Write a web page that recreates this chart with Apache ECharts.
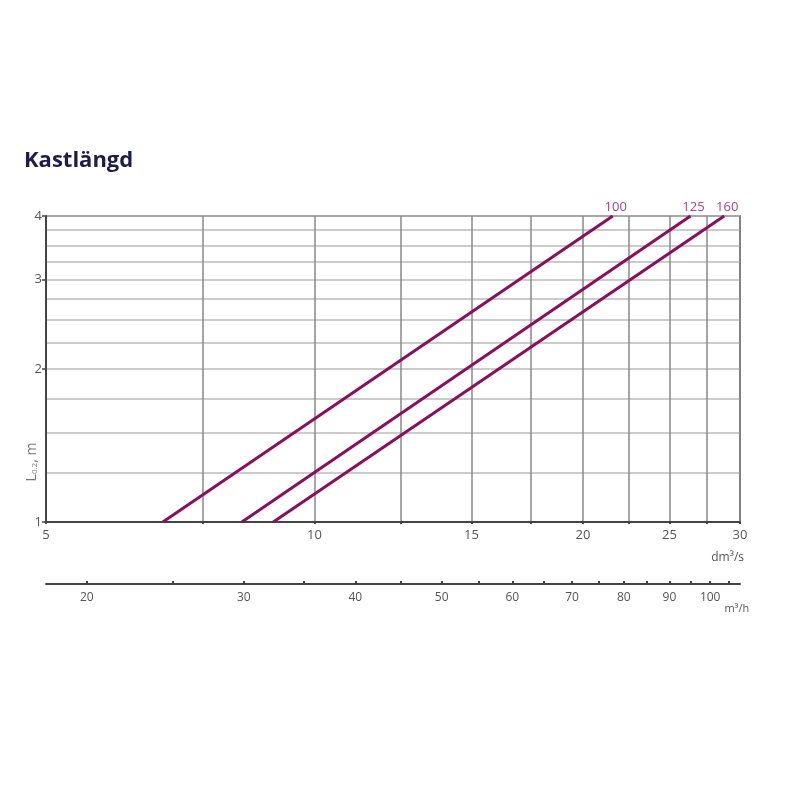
<!DOCTYPE html>
<html><head><meta charset="utf-8">
<script src="https://cdn.jsdelivr.net/npm/echarts@6/dist/echarts.min.js"></script>
<style>html,body{margin:0;padding:0;background:#fff}#c{width:800px;height:800px}</style>
</head><body><div id="c"></div>
<script>
const titleText = 'Kastlängd';
const sizes = ['100', '125', '160'];
const line100 = [[6.76, 1], [21.6, 4]];
const line125 = [[8.29, 1], [26.4, 4]];
const line160 = [[8.99, 1], [28.8, 4]];
const xGridValues = [5, 7.5, 10, 12.5, 15, 17.5, 20, 22.5, 25, 27.5, 30];
const xLabelValues = [5, 10, 15, 20, 25, 30];
const yGridValues = [1, 1.25, 1.5, 1.75, 2, 2.25, 2.5, 2.75, 3, 3.25, 3.5, 3.75, 4];
const yLabelValues = [1, 2, 3, 4];
const m3hTickValues = [20, 25, 30, 35, 40, 45, 50, 55, 60, 65, 70, 75, 80, 85, 90, 95, 100, 105];
const m3hLabelValues = [20, 30, 40, 50, 60, 70, 80, 90, 100];
const xRange = [5, 30];
const yRange = [1, 4];
const M3H_PER_DM3S = 3.6;

const FONT = 'Open Sans';
const lineColor = '#8a0f5c';
const labelColor = '#a8448c';
const txt = '#555';

const chart = echarts.init(document.getElementById('c'), null, {renderer: 'canvas'});

function lineSeries(name, data) {
  const last = data[data.length - 1];
  return {
    type: 'line', name: name, xAxisIndex: 0, yAxisIndex: 0,
    data: data,
    symbol: 'none', silent: true,
    lineStyle: {color: lineColor, width: 3},
    markPoint: {
      silent: true, animation: false,
      symbol: 'circle', symbolSize: 1,
      itemStyle: {color: 'rgba(0,0,0,0)'},
      label: {show: true, position: 'top', distance: 2, offset: [3, 0], formatter: name,
        color: labelColor, fontSize: 13, fontFamily: FONT},
      data: [{coord: last}]
    },
    animation: false
  };
}

chart.setOption({
  animation: false,
  title: {
    text: titleText, left: 19, top: 145,
    textStyle: {fontSize: 22, fontWeight: 'bold', color: '#1c1c4e', fontFamily: FONT}
  },
  grid: {left: 46, right: 60, top: 216, bottom: 278, show: true, borderColor: '#444', borderWidth: 1.5, backgroundColor: 'transparent'},
  xAxis: [
    {
      type: 'log', logBase: 10, min: xRange[0], max: xRange[1], position: 'bottom',
      axisLine: {show: true, onZero: false, lineStyle: {color: '#444', width: 2}},
      axisTick: {show: true, customValues: xGridValues, length: 2, lineStyle: {color: '#444', width: 2}},
      axisLabel: {show: true, customValues: xLabelValues, color: txt, fontSize: 13, fontFamily: FONT, margin: 7},
      splitLine: {show: true, lineStyle: {color: '#888', width: 1.5}},
      minorTick: {show: false}, minorSplitLine: {show: false},
      name: 'dm³/s', nameLocation: 'end', nameGap: 4,
      nameTextStyle: {color: txt, fontSize: 12, fontFamily: FONT, align: 'right', verticalAlign: 'top', padding: [30, 0, 0, 0]}
    },
    {
      type: 'log', logBase: 10, min: xRange[0] * M3H_PER_DM3S, max: xRange[1] * M3H_PER_DM3S,
      position: 'bottom', offset: 62,
      axisLine: {show: true, onZero: false, lineStyle: {color: '#444', width: 2}},
      axisTick: {show: true, inside: true, customValues: m3hTickValues, length: 3, lineStyle: {color: '#444', width: 2}},
      axisLabel: {show: true, customValues: m3hLabelValues, color: txt, fontSize: 12, fontFamily: FONT, margin: 8},
      splitLine: {show: false},
      minorTick: {show: false},
      name: 'm³/h', nameLocation: 'end', nameGap: 4,
      nameTextStyle: {color: txt, fontSize: 11, fontFamily: FONT, align: 'right', verticalAlign: 'top', padding: [19, 0, 0, 0]}
    }
  ],
  yAxis: [
    {
      type: 'log', logBase: 10, min: yRange[0], max: yRange[1],
      axisLine: {show: true, onZero: false, lineStyle: {color: '#444', width: 2}},
      axisTick: {show: false, customValues: yGridValues},
      axisLabel: {show: false},
      splitLine: {show: true, lineStyle: {color: '#bbb', width: 1.5}},
      minorTick: {show: false}, minorSplitLine: {show: false}
    },
    {
      type: 'log', logBase: 10, min: yRange[0], max: yRange[1], position: 'left',
      axisLine: {show: false},
      axisTick: {show: true, customValues: yLabelValues, length: 4, lineStyle: {color: '#444', width: 1.5}},
      axisLabel: {show: true, customValues: yLabelValues, color: txt, fontSize: 13, fontFamily: FONT, margin: 4},
      splitLine: {show: false}, minorTick: {show: false}
    }
  ],
  graphic: [{
    type: 'text', x: 32, y: 462, rotation: Math.PI / 2, silent: true,
    style: {
      text: '{a|L}{b|0.2}{a|, m}', align: 'center', verticalAlign: 'middle',
      rich: {
        a: {fontSize: 14, fontFamily: FONT, fill: '#777', color: '#777'},
        b: {fontSize: 8, fontFamily: FONT, fill: '#777', color: '#777', padding: [6, 0, 0, 0]}
      }
    }
  }],
  series: [
    lineSeries(sizes[0], line100),
    lineSeries(sizes[1], line125),
    lineSeries(sizes[2], line160)
  ]
});
</script></body></html>
